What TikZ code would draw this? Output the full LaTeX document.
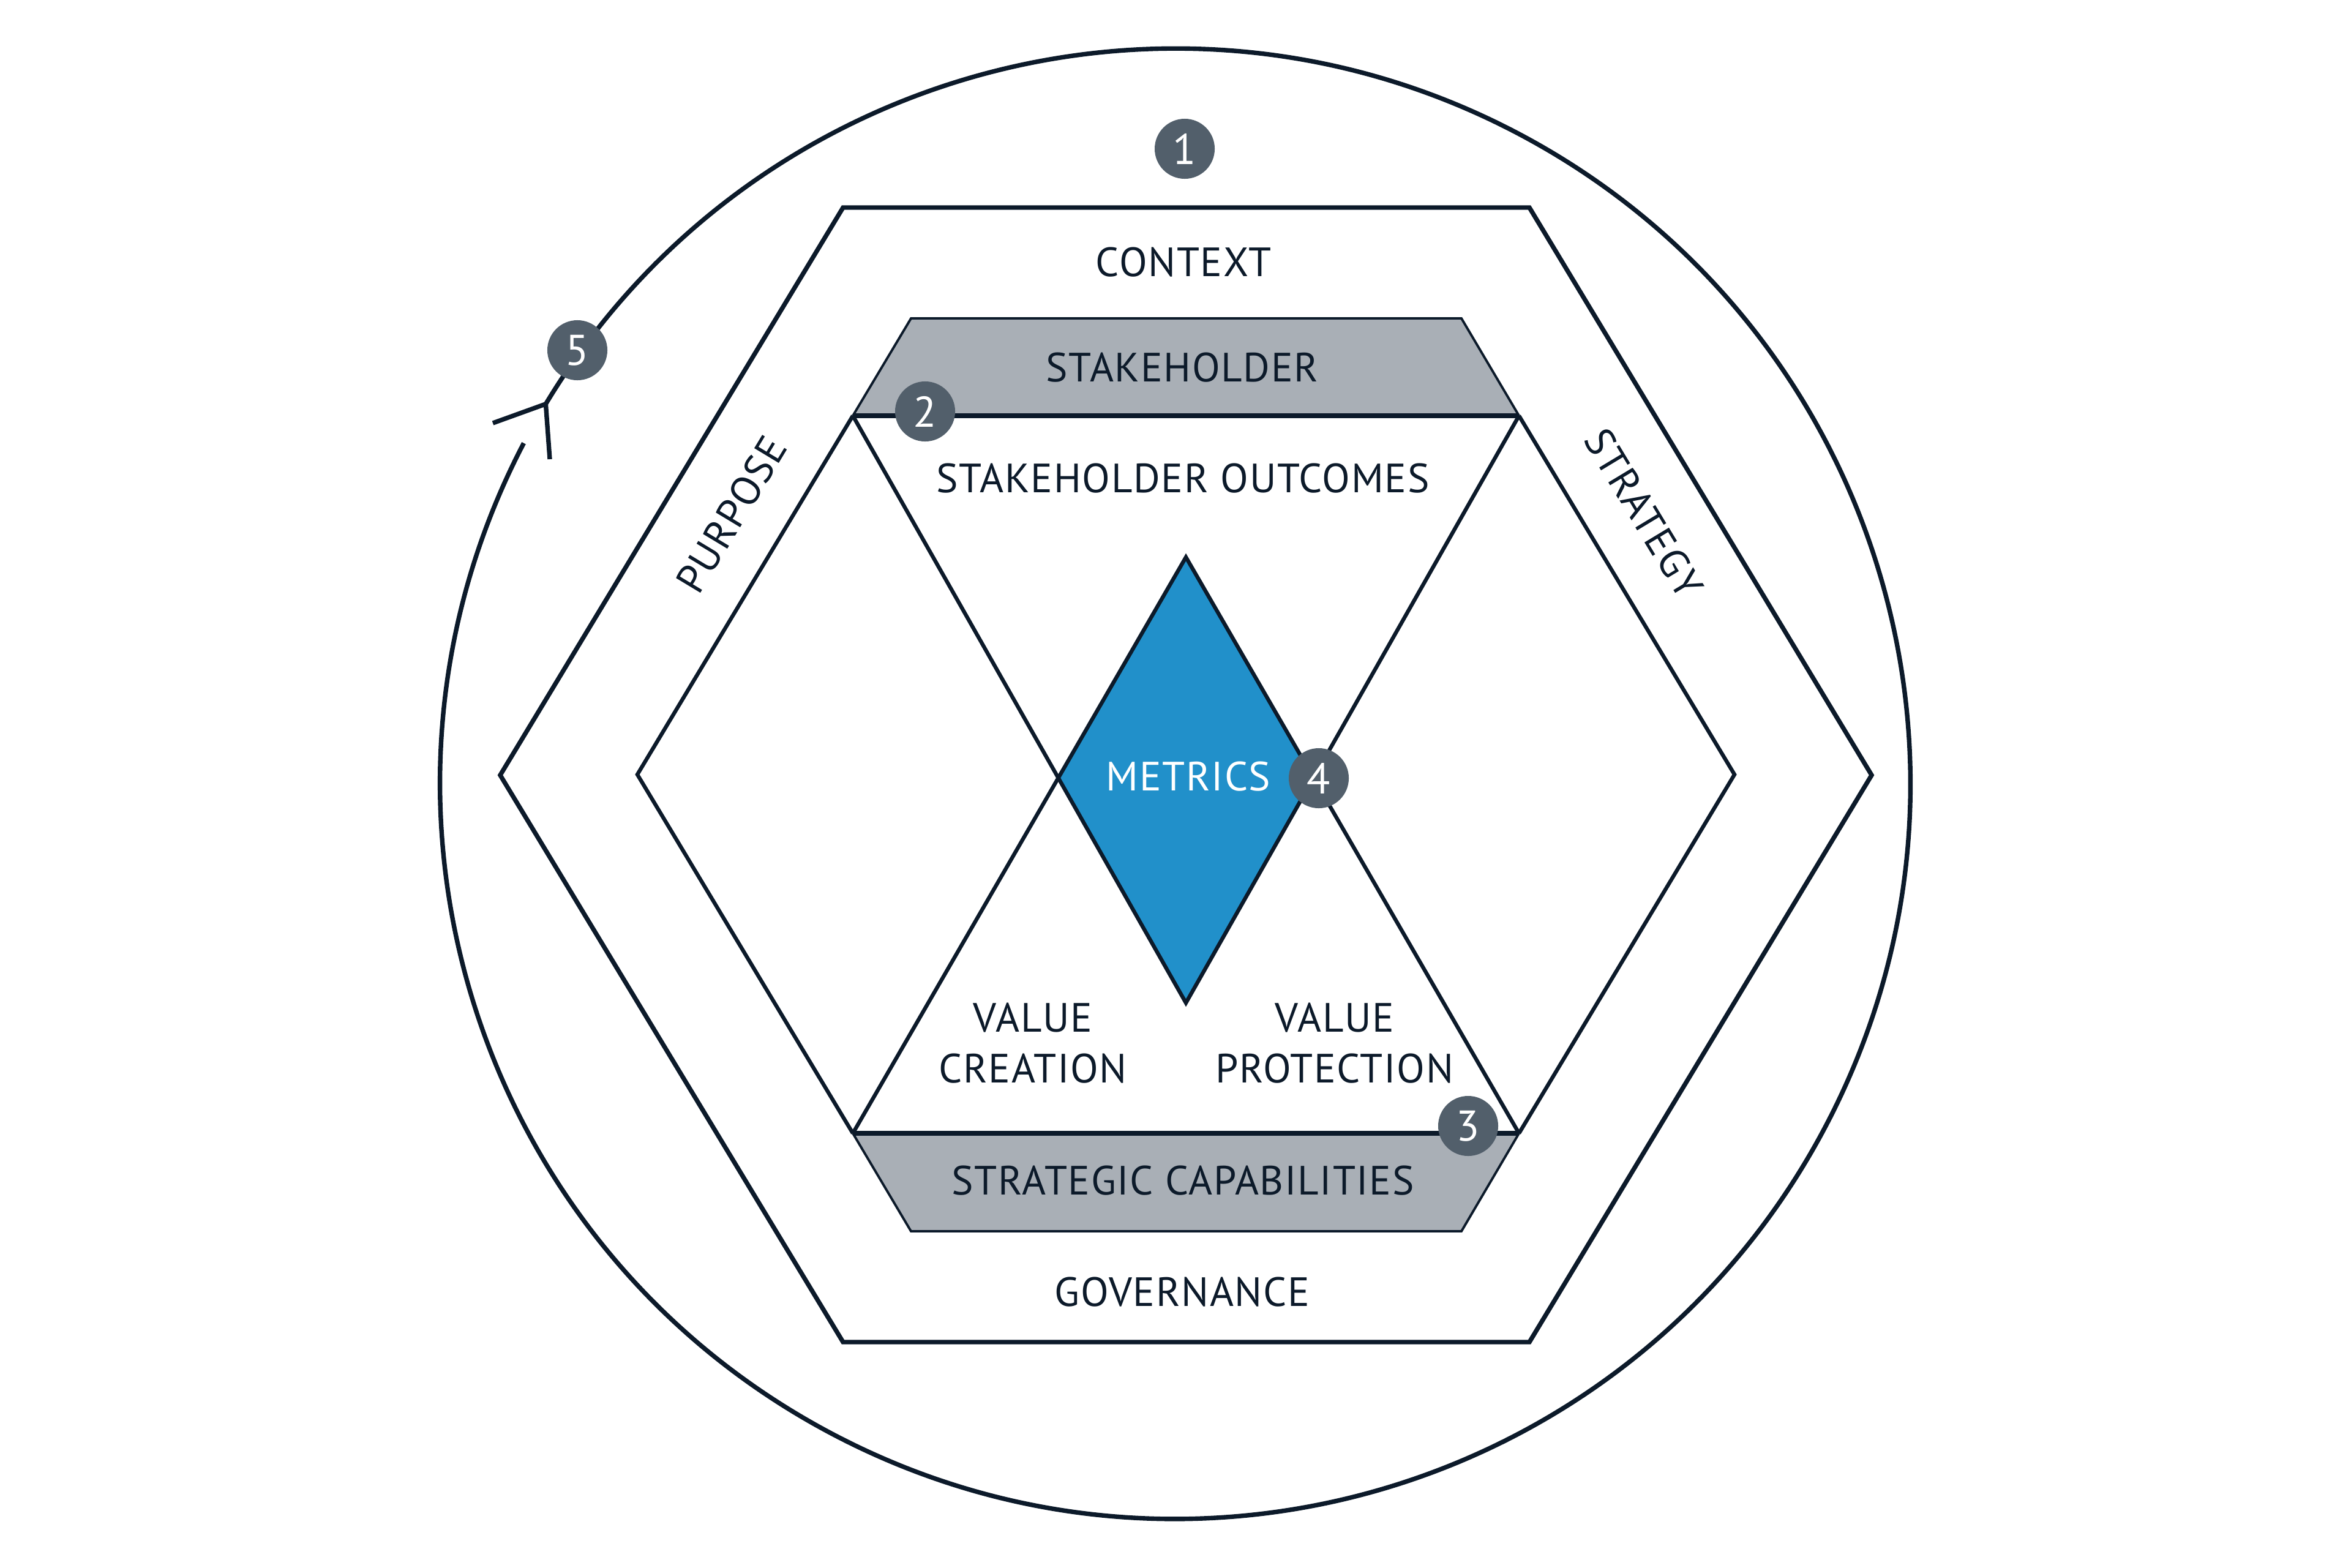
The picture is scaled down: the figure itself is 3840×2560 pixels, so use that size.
\documentclass[tikz,border=0pt]{standalone}
\usepackage{fontspec}
\setmainfont{PT Sans}
\newfontfamily\lblfont[LetterSpace=2.5]{PT Sans}
\definecolor{ink}{HTML}{0C1A2A}
\definecolor{band}{HTML}{A9AFB6}
\definecolor{badgefill}{HTML}{525F6B}
\definecolor{metricblue}{HTML}{2190CA}
\begin{document}
\begin{tikzpicture}[x=0.01cm,y=0.01cm,
  lbl/.style={text=ink,font=\lblfont\fontsize{19}{23.6}\selectfont,align=center,inner sep=0pt},
  badge/.style={circle,fill=badgefill,text=white,minimum size=0.98cm,inner sep=0pt,font=\fontsize{20}{24}\selectfont},
  heavy/.style={draw=ink,line width=2.1pt,line join=miter},
  innerline/.style={draw=ink,line width=1.8pt,line join=miter},
  thinedge/.style={draw=ink,line width=1.1pt,line join=miter}]
\useasboundingbox (0,0) rectangle (3840,-2560);
% key points
\coordinate (O) at (1919.5,-1280);
\coordinate (oTL) at (1377,-339);
\coordinate (oTR) at (2498,-339);
\coordinate (oR) at (3057,-1266);
\coordinate (oBR) at (2498,-2192);
\coordinate (oBL) at (1377,-2192);
\coordinate (oL) at (817,-1266);
\coordinate (A) at (1393,-679);
\coordinate (B) at (2481,-679);
\coordinate (iR) at (2833,-1265);
\coordinate (C) at (2481,-1851);
\coordinate (D) at (1393,-1851);
\coordinate (iL) at (1041,-1265);
\coordinate (sTL) at (1488,-520);
\coordinate (sTR) at (2387,-520);
\coordinate (gBL) at (1488,-2011);
\coordinate (gBR) at (2387,-2011);
\coordinate (T) at (1937,-910);
\coordinate (U) at (1937,-1638);
\coordinate (dL) at (intersection of A--U and D--T);
\coordinate (dR) at (intersection of B--U and C--T);
\coordinate (bL) at (805,-691);
\coordinate (bD) at (898,-750);
% bands
\fill[band] (sTL)--(sTR)--(B)--(A)--cycle;
\draw[thinedge] (A)--(sTL)--(sTR)--(B);
\fill[band] (D)--(C)--(gBR)--(gBL)--cycle;
\draw[thinedge] (D)--(gBL)--(gBR)--(C);
% diamond
\fill[metricblue] (T)--(dR)--(U)--(dL)--cycle;
% inner hexagon
\draw[innerline] (A)--(iL)--(D);
\draw[innerline] (B)--(iR)--(C);
\draw[heavy] (A)--(B);
\draw[heavy] (D)--(C);
\draw[innerline] (A)--(U)--(B);
\draw[innerline] (D)--(T)--(C);
% outer hexagon
\draw[heavy] (oTL)--(oTR)--(oR)--(oBR)--(oBL)--(oL)--cycle;
% cycle arrow
\draw[heavy] (O) ++(152.4:12cm) arc[start angle=152.4,end angle=508.9,radius=12cm];
\path (O) ++(148.9:12cm) coordinate (J);
\draw[heavy] (bL)--(J)--(bD);
% labels
\node[lbl] (context) at (1933,-428) {CONTEXT};
\node[lbl] (stake) at (1931,-600) {STAKEHOLDER};
\node[lbl] (outc) at (1932,-781) {STAKEHOLDER OUTCOMES};
\node[lbl,text=white] (metrics) at (1941,-1268) {METRICS};
\node[lbl] (vc) at (1687,-1704) {VALUE\\CREATION};
\node[lbl] (vp) at (2180,-1704) {VALUE\\PROTECTION};
\node[lbl] (strat) at (1932,-1928) {STRATEGIC CAPABILITIES};
\node[lbl] (gov) at (1931,-2110) {GOVERNANCE};
\node[lbl,rotate=58.9] (purpose) at (1195,-840) {PURPOSE};
\node[lbl,rotate=-58.9] (strategy) at (2685,-838) {STRATEGY};
% badges
\node[badge] (b1) at (1935,-243) {1};
\node[badge] (b2) at (1511,-672) {2};
\node[badge] (b3) at (2398,-1839) {3};
\node[badge] (b4) at (2154,-1271) {4};
\node[badge] (b5) at (943,-572) {5};
\end{tikzpicture}
\end{document}
